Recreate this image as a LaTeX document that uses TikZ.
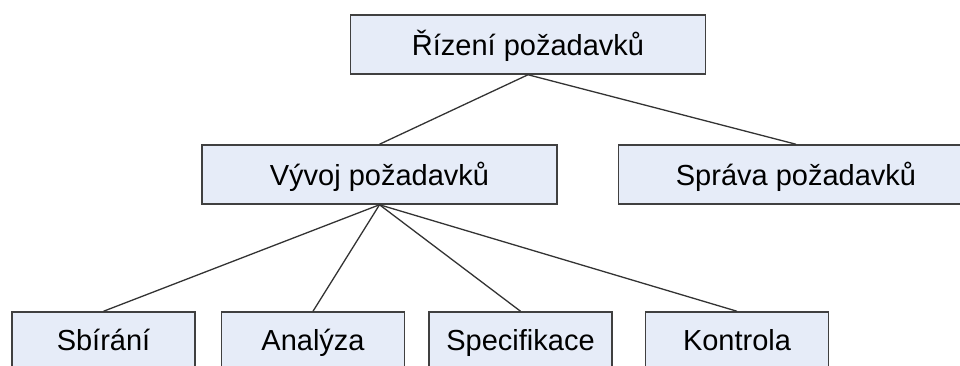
\documentclass[tikz,border=0pt]{standalone}
\usepackage{fontspec}
\setmainfont{Liberation Sans}
\usetikzlibrary{positioning}
\definecolor{boxfill}{RGB}{230,236,248}
\definecolor{boxline}{RGB}{64,64,64}

\begin{document}
\begin{tikzpicture}[x=1pt, y=1pt, node distance=71pt and 60pt,
        box/.style={draw=boxline, fill=boxfill, line width=1.5pt, minimum width=355pt, minimum height=59pt, inner sep=0pt, text height=21pt, text depth=0pt, font=\fontsize{29}{34}\selectfont},
        leaf/.style={box, minimum width=183pt, minimum height=55pt},
        edge/.style={draw=black!80, line width=1.3pt}]
        \useasboundingbox (0,0) rectangle (960,-365);

        \node[box] (rizeni) at (528,-44.5) {Řízení požadavků};
        \node[box] (vyvoj) at (379.5,-174.5) {Vývoj požadavků};
        \node[box, right=of vyvoj] (sprava) {Správa požadavků};

        \node[leaf] (sbirani) at (103.5,-339.5) {Sbírání};
        \node[leaf, right=25pt of sbirani] (analyza) {Analýza};
        \node[leaf, right=23pt of analyza] (specifikace) {Specifikace};
        \node[leaf, right=32pt of specifikace] (kontrola) {Kontrola};

        \draw[edge] (rizeni.south) -- (vyvoj.north);
        \draw[edge] (rizeni.south) -- (sprava.north);

        \draw[edge] (vyvoj.south) -- (sbirani.north);
        \draw[edge] (vyvoj.south) -- (analyza.north);
        \draw[edge] (vyvoj.south) -- (specifikace.north);
        \draw[edge] (vyvoj.south) -- (kontrola.north);
\end{tikzpicture}
\end{document}
